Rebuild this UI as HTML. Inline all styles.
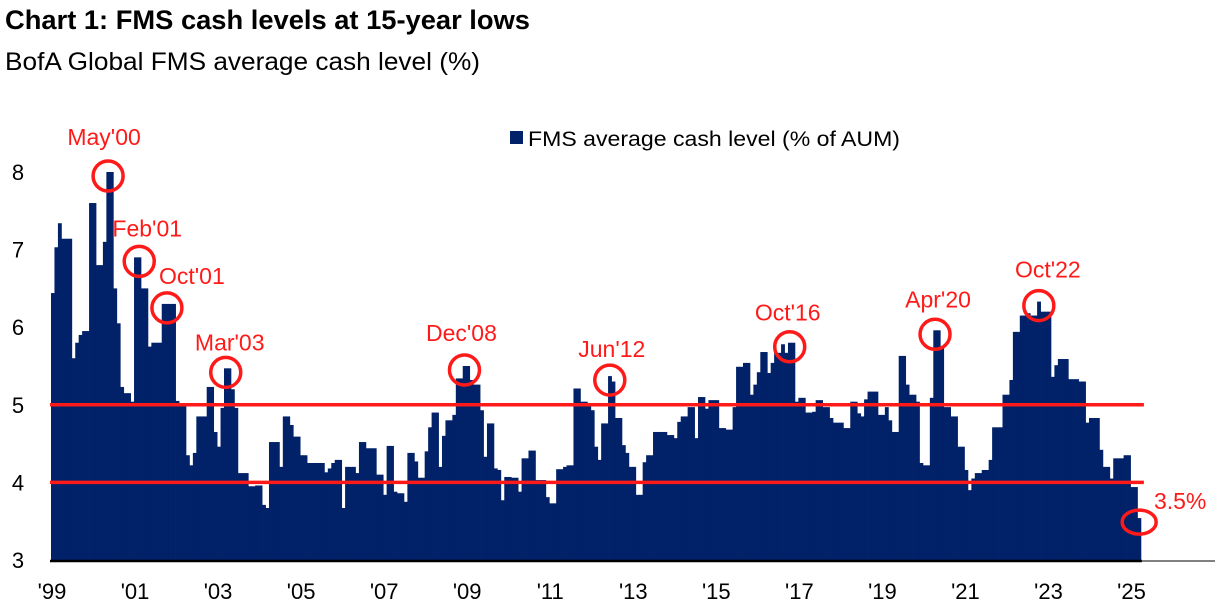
<!DOCTYPE html>
<html><head><meta charset="utf-8"><style>
html,body{margin:0;padding:0;background:#fff;}
svg{display:block;font-family:"Liberation Sans",sans-serif;}
</style></head><body>
<svg id="chart" width="1222" height="612" viewBox="0 0 1222 612" xmlns="http://www.w3.org/2000/svg">
<text x="5" y="29" font-size="27" font-weight="bold" textLength="525" lengthAdjust="spacingAndGlyphs" fill="#000">Chart 1: FMS cash levels at 15-year lows</text>
<text x="5" y="70" font-size="25" textLength="475" lengthAdjust="spacingAndGlyphs" fill="#000">BofA Global FMS average cash level (%)</text>
<g>
<rect x="510" y="131" width="13" height="13" fill="#012169"/>
<text x="528" y="146" font-size="21" textLength="372" lengthAdjust="spacingAndGlyphs" fill="#000">FMS average cash level (% of AUM)</text>
</g>
<g id="bars"></g>
<g id="refs"></g>
<g id="axes"></g>
<g id="annots"></g>
</svg>
<script>
const values = [
6.44,7.03,7.34,7.14,7.14,7.14,5.6,5.8,5.9,5.95,5.95,7.6,
7.6,6.8,6.8,7.1,8.0,8.0,6.5,6.05,5.23,5.15,5.15,5.04,
6.9,6.9,6.5,6.5,5.75,5.8,5.8,5.8,6.3,6.3,6.3,6.3,
5.05,5.02,5.02,4.35,4.22,4.38,4.85,4.85,4.85,5.23,5.23,4.65,
4.46,4.96,5.47,5.47,5.2,4.96,4.12,4.12,4.12,3.95,3.95,3.96,
3.96,3.71,3.67,4.52,4.52,4.52,4.2,4.85,4.85,4.74,4.59,4.59,
4.35,4.35,4.25,4.25,4.25,4.25,4.25,4.13,4.18,4.25,4.29,4.29,
3.67,4.2,4.2,4.2,4.12,4.52,4.52,4.44,4.44,4.44,4.1,4.1,
3.84,4.47,4.47,3.88,3.86,3.86,3.75,4.38,4.38,4.27,4.06,4.06,
4.4,4.71,4.9,4.9,4.2,4.6,4.8,4.8,4.87,5.34,5.34,5.5,
5.5,5.32,5.26,5.26,4.93,4.33,4.76,4.76,4.18,4.16,3.77,4.07,
4.07,4.06,4.06,3.88,4.31,4.31,4.41,4.41,4.03,4.03,4.03,3.81,
3.73,3.73,4.17,4.17,4.2,4.22,4.22,5.21,5.21,5.04,5.04,5.0,
4.93,4.46,4.29,4.76,4.76,5.37,5.3,4.83,4.83,4.48,4.38,4.2,
4.2,3.84,3.84,4.26,4.35,4.35,4.65,4.65,4.65,4.65,4.61,4.61,
4.57,4.78,4.85,4.85,4.97,4.97,4.57,5.1,5.1,4.95,5.06,5.06,
5.06,4.7,4.7,4.68,4.68,4.97,5.49,5.49,5.54,5.54,5.13,5.26,
5.42,5.68,5.68,5.41,5.54,5.67,5.67,5.78,5.67,5.8,5.8,5.04,
5.09,5.09,4.9,4.9,4.91,5.06,5.06,4.97,4.97,4.83,4.77,4.77,
4.77,4.7,4.7,5.04,5.04,4.89,4.85,5.07,5.17,5.17,5.17,4.87,
4.87,4.97,4.8,4.65,4.65,5.63,5.63,5.26,5.13,5.13,5.04,4.25,
4.22,4.22,5.09,5.96,5.96,5.73,4.97,4.97,4.85,4.85,4.46,4.46,
4.16,3.9,4.05,4.12,4.12,4.16,4.16,4.29,4.71,4.71,4.71,5.13,
5.13,5.32,5.94,5.94,6.15,6.15,6.18,6.15,6.15,6.33,6.2,6.2,
6.2,5.36,5.51,5.59,5.59,5.59,5.33,5.33,5.33,5.3,5.3,4.77,
4.83,4.83,4.83,4.42,4.2,4.2,4.05,4.31,4.31,4.31,4.35,4.35,
3.94,3.94,3.54
];
const startYear = 1999;
const yTicks = [3,4,5,6,7,8];
const xTickYears = [1999,2001,2003,2005,2007,2009,2011,2013,2015,2017,2019,2021,2023,2025];
const refLevels = [5,4];
const annotIndex = [16,25,33,50,119,161,213,255,285,314];
const annotText = ["May'00","Feb'01","Oct'01","Mar'03","Dec'08","Jun'12","Oct'16","Apr'20","Oct'22","3.5%"];
const annotDx = [-4,8,25,4,-3,2,-2,3,9,41];
const annotDy = [-31,-25,-24,-22,-29,-23,-26,-27,-28,-13];

const NS = "http://www.w3.org/2000/svg";
const X0 = 51, MW = 3.46, Y3 = 560, PU = 77.6;
function xPos(i){ return X0 + i*MW; }
function yPos(v){ return Y3 - (v-3)*PU; }
function mk(tag, attrs, parent){ const e=document.createElementNS(NS,tag); for(const k in attrs) e.setAttribute(k,attrs[k]); parent.appendChild(e); return e; }

const bars = document.getElementById('bars');
values.forEach((v,i)=>{
  const r = mk('rect',{x:xPos(i).toFixed(2), y:yPos(v).toFixed(2), width:(MW+0.4).toFixed(2), height:(Y3-yPos(v)).toFixed(2), fill:'#012169'}, bars);
  
  
});

const refs = document.getElementById('refs');
refLevels.forEach(l=>{
  const ln = mk('line',{x1:50, x2:xPos(values.length)+3, y1:yPos(l), y2:yPos(l), stroke:'#ff1a1a','stroke-width':3.5}, refs);
  
  
});

const axes = document.getElementById('axes');
const base = mk('line',{x1:50,x2:xPos(values.length)+1,y1:Y3+1,y2:Y3+1,stroke:'#000','stroke-width':2.5}, axes);


const base2 = mk('line',{x1:xPos(values.length)+1,x2:1215,y1:Y3+1,y2:Y3+1,stroke:'#000','stroke-width':1}, axes);


yTicks.forEach(t=>{
  const tx = mk('text',{x:18,y:yPos(t)+8,'font-size':22,'text-anchor':'middle',fill:'#000'}, axes);
  tx.textContent = String(t);
  
  
});
xTickYears.forEach(yr=>{
  const i = (yr-startYear)*12;
  const tx = mk('text',{x:xPos(i)+1,y:599,'font-size':22,'text-anchor':'middle',fill:'#000'}, axes);
  tx.textContent = "'" + String(yr).slice(2);
  
  
});

const annots = document.getElementById('annots');
annotIndex.forEach((idx,k)=>{
  const cx = xPos(idx)+MW/2, cy = yPos(values[idx])+4;
  const last = (k===annotIndex.length-1);
  const c = mk('ellipse',{cx:cx, cy:cy, rx:last?17:15, ry:last?12:15, fill:'none', stroke:'#ff1a1a','stroke-width':3.5}, annots);
  
  
  const tx = mk('text',{x:cx+annotDx[k], y:cy+annotDy[k],'font-size':23,'text-anchor':'middle',fill:'#ff1a1a'}, annots);
  tx.textContent = annotText[k];
  
  
});
</script>
</body></html>
